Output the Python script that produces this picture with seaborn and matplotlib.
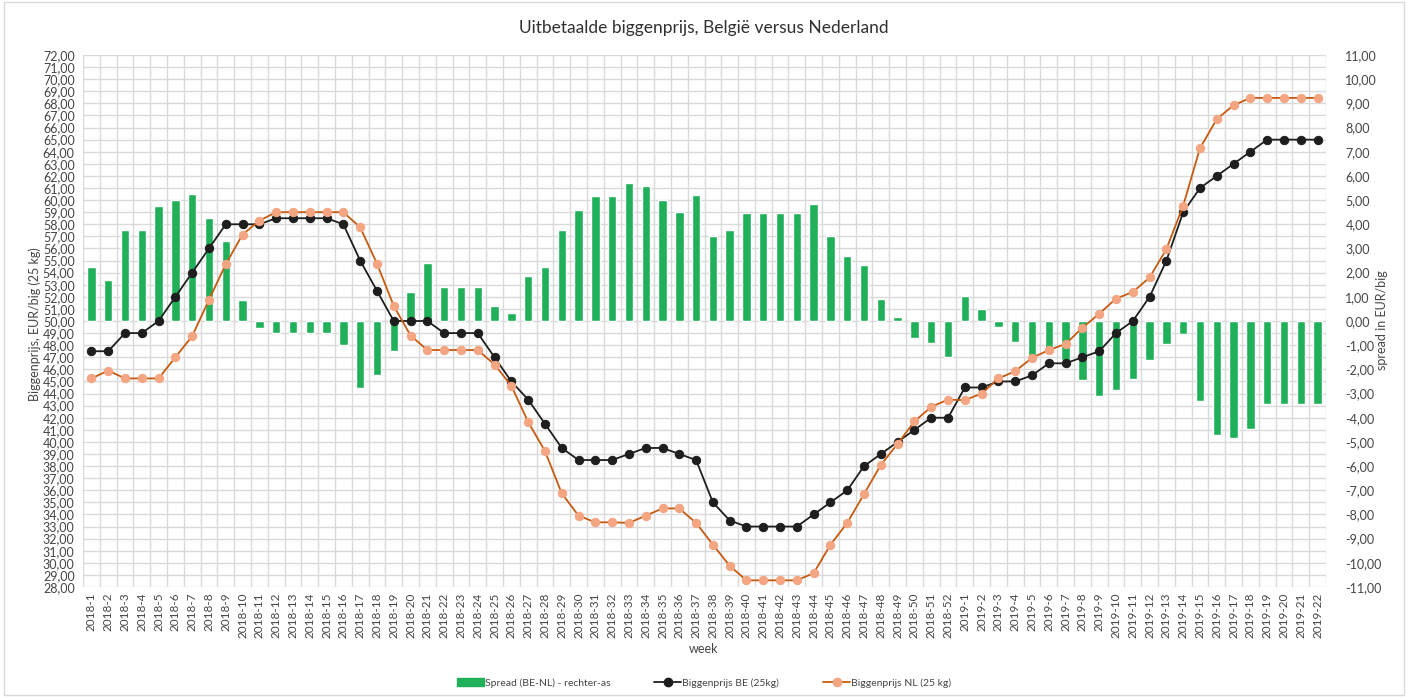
import matplotlib
matplotlib.use("Agg")
from matplotlib import pyplot as plt
from matplotlib.patches import Patch, Rectangle
from matplotlib.lines import Line2D
from matplotlib.ticker import MultipleLocator, FuncFormatter
import numpy as np
import pandas as pd
import seaborn as sns

# week labels
weeks = [f"2018-{i}" for i in range(1, 53)] + [f"2019-{i}" for i in range(1, 23)]

# Biggenprijs BE (25kg), EUR/big
price_be = [47.5, 47.5, 49, 49, 50, 52, 54, 56, 58, 58,
            58, 58.5, 58.5, 58.5, 58.5, 58, 55, 52.5, 50, 50,
            50, 49, 49, 49, 47, 45, 43.5, 41.5, 39.5, 38.5,
            38.5, 38.5, 39, 39.5, 39.5, 39, 38.5, 35, 33.5, 33,
            33, 33, 33, 34, 35, 36, 38, 39, 40, 41,
            42, 42,
            44.5, 44.5, 45, 45, 45.5, 46.5, 46.5, 47, 47.5, 49,
            50, 52, 55, 59, 61, 62, 63, 64, 65, 65,
            65, 65]

# Biggenprijs NL (25 kg), EUR/big
price_nl = [45.25, 45.9, 45.25, 45.25, 45.25, 47, 48.75, 51.75, 54.7, 57.15,
            58.3, 59, 59, 59, 59, 59, 57.75, 54.75, 51.25, 48.8,
            47.6, 47.6, 47.6, 47.6, 46.4, 44.65, 41.65, 39.25, 35.75, 33.9,
            33.35, 33.35, 33.3, 33.9, 34.5, 34.5, 33.3, 31.5, 29.75, 28.55,
            28.55, 28.55, 28.55, 29.15, 31.5, 33.3, 35.7, 38.1, 39.85, 41.7,
            42.9, 43.5,
            43.45, 44, 45.25, 45.85, 46.95, 47.6, 48.1, 49.45, 50.6, 51.85,
            52.4, 53.6, 55.95, 59.55, 64.3, 66.7, 67.85, 68.45, 68.45, 68.45,
            68.45, 68.45]

# Spread (BE-NL), right axis
spread = [2.25, 1.7, 3.75, 3.75, 4.75, 5, 5.25, 4.25, 3.3, 0.85,
          -0.3, -0.5, -0.5, -0.5, -0.5, -1, -2.75, -2.25, -1.25, 1.2,
          2.4, 1.4, 1.4, 1.4, 0.6, 0.35, 1.85, 2.25, 3.75, 4.6,
          5.15, 5.15, 5.7, 5.6, 5, 4.5, 5.2, 3.5, 3.75, 4.45,
          4.45, 4.45, 4.45, 4.85, 3.5, 2.7, 2.3, 0.9, 0.15, -0.7,
          -0.9, -1.5,
          1.05, 0.5, -0.25, -0.85, -1.45, -1.1, -1.6, -2.45, -3.1, -2.85,
          -2.4, -1.6, -0.95, -0.55, -3.3, -4.7, -4.85, -4.45, -3.45, -3.45,
          -3.45, -3.45]

df = pd.DataFrame({"week": weeks, "BE": price_be, "NL": price_nl, "spread": spread})

sns.set_style("white")
plt.rcParams["font.family"] = ["Lato", "DejaVu Sans"]

text_col = "#454545"
grid_col = "#d9d9d9"
green = "#21b05a"
be_col = "#1e1e1e"
nl_line = "#c55a11"
nl_marker = "#f4a582"

fig = plt.figure(figsize=(14.08, 6.97), dpi=100)
ax = fig.add_axes([83 / 1408, 1 - 587 / 697, (1326 - 83) / 1408, (587 - 55) / 697])

# bars on the base axes (right scale), lines on the twin (left scale) so lines are on top
sns.barplot(data=df, x="week", y="spread", color=green, saturation=1, width=0.5,
            errorbar=None, ax=ax, zorder=2)
ax.set_ylim(-11, 11)
ax.set_xlim(-0.5, len(weeks) - 0.5)

ax2 = ax.twinx()
sns.lineplot(data=df, x="week", y="BE", sort=False, ax=ax2, color=be_col, linewidth=1.3,
             marker="o", markersize=6, markeredgecolor=be_col, markerfacecolor=be_col)
sns.lineplot(data=df, x="week", y="NL", sort=False, ax=ax2, color=nl_line, linewidth=1.3,
             marker="o", markersize=6, markeredgecolor=nl_marker, markerfacecolor=nl_marker)
ax2.set_ylim(28, 72)
ax2.set_xlim(-0.5, len(weeks) - 0.5)

# gridlines on the bar axes (behind everything)
ax.yaxis.set_major_locator(MultipleLocator(1))
ax.yaxis.set_minor_locator(MultipleLocator(0.5))
ax.set_xticks(np.arange(len(weeks)))
ax.set_xticks(np.arange(-0.5, len(weeks), 1), minor=True)
ax.grid(which="minor", axis="both", color=grid_col, linewidth=1.0, zorder=0)
ax.grid(which="major", axis="y", color=grid_col, linewidth=1.0, zorder=0)
ax.set_axisbelow(True)

# right ticks = spread axis
ax.yaxis.tick_right()
ax.yaxis.set_major_formatter(FuncFormatter(lambda v, p: f"{v:.2f}".replace(".", ",")))
ax.tick_params(axis="y", which="both", length=0, labelsize=9, labelcolor=text_col, pad=14)
ax.tick_params(axis="x", which="both", length=0, labelsize=8.5, labelcolor=text_col, pad=4)
ax.set_xticklabels(weeks, rotation=90)

# left ticks = price axis
ax2.yaxis.tick_left()
ax2.yaxis.set_major_locator(MultipleLocator(1))
ax2.yaxis.set_major_formatter(FuncFormatter(lambda v, p: f"{v:.2f}".replace(".", ",")))
ax2.tick_params(axis="y", length=0, labelsize=9, labelcolor=text_col, pad=6)
ax2.tick_params(axis="x", length=0)

for a in (ax, ax2):
    a.set_xlabel("")
    a.set_ylabel("")
    for s in a.spines.values():
        s.set_visible(False)
    if a.get_legend() is not None:
        a.get_legend().remove()

fig.text(0.5, 1 - 28 / 697, "Uitbetaalde biggenprijs, België versus Nederland",
         ha="center", va="center", fontsize=12.5, color="#303030")
fig.text(0.5, 1 - 649 / 697, "week", ha="center", va="center", fontsize=9, color=text_col)
fig.text(35 / 1408, 0.535, "Biggenprijs, EUR/big (25 kg)", rotation=90,
         ha="center", va="center", fontsize=9, color=text_col)
fig.text(1382 / 1408, 0.54, "spread in EUR/big", rotation=90,
         ha="center", va="center", fontsize=9, color=text_col)

handles = [
    Patch(facecolor=green, edgecolor=green),
    Line2D([], [], color=be_col, linewidth=1.3, marker="o", markersize=6),
    Line2D([], [], color=nl_line, linewidth=1.3, marker="o", markersize=6,
           markerfacecolor=nl_marker, markeredgecolor=nl_marker),
]
labels = ["Spread (BE-NL) - rechter-as", "Biggenprijs BE (25kg)", "Biggenprijs NL (25 kg)"]
leg = fig.legend(handles, labels, loc="center", bbox_to_anchor=(0.5, 1 - 683 / 697), ncol=3,
                 frameon=False, fontsize=7.5, handlelength=2.6, handletextpad=0.1,
                 columnspacing=4.2)
for t in leg.get_texts():
    t.set_color(text_col)

# chart border
fig.add_artist(Rectangle((0.003, 0.003), 0.994, 0.994, transform=fig.transFigure,
                         fill=False, edgecolor=grid_col, linewidth=1.0))

fig.savefig("out.png", dpi=100)
